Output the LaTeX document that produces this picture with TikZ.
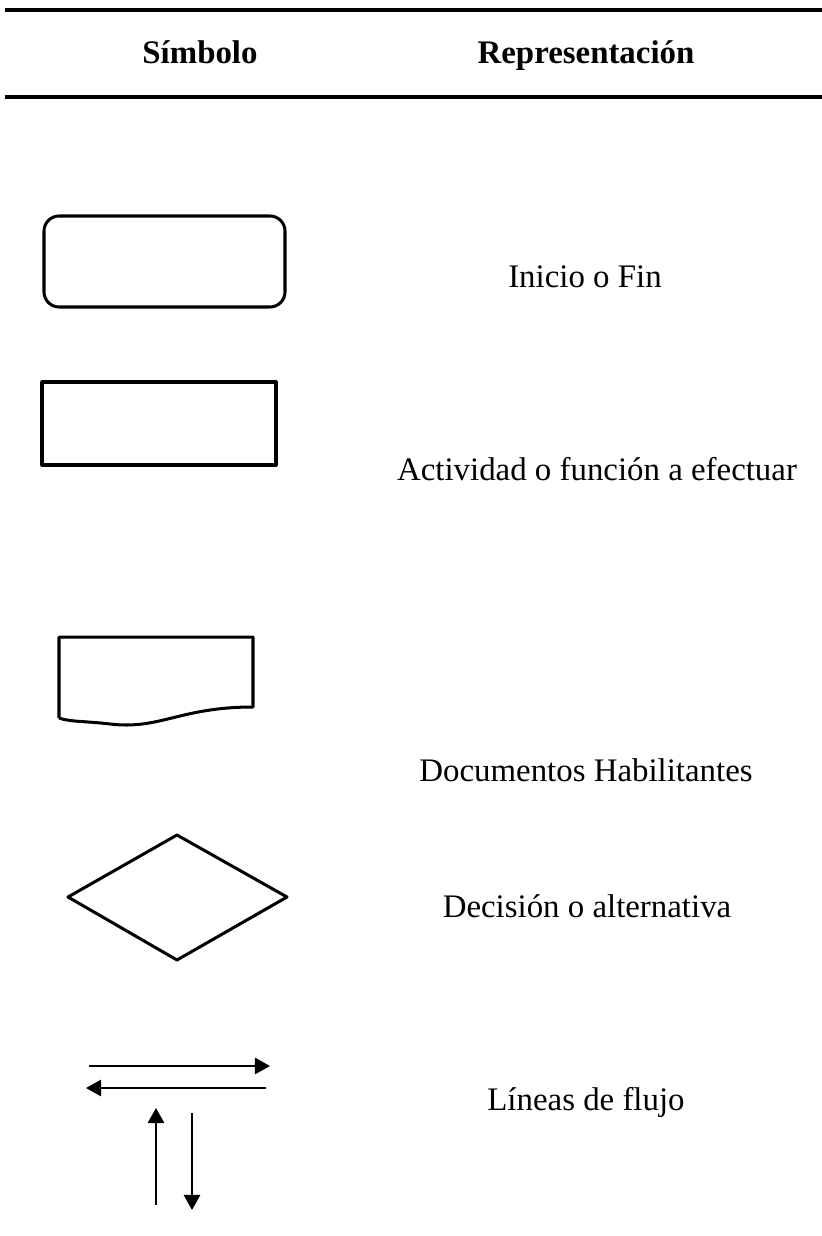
\documentclass[tikz,border=0pt]{standalone}
\usepackage{fontspec}
\setmainfont{Liberation Serif}
\usetikzlibrary{arrows.meta}
\tikzset{
    shapeline/.style = {line width=1.1pt, line join=round},
    flowline/.style  = {line width=0.55pt, -{Triangle[length=5.5pt, width=6pt]}},
    headtext/.style  = {font=\fontsize{12}{14}\selectfont\bfseries, anchor=base},
    desctext/.style  = {font=\fontsize{12}{14}\selectfont, anchor=base}
}
\begin{document}
\begin{tikzpicture}[x=0.365pt, y=-0.365pt]
    \useasboundingbox (0,0) rectangle (822,1236);
    % header rules
    \draw[line width=1.1pt] (5,10) -- (822,10);
    \draw[line width=1.1pt] (5,97) -- (822,97);
    \node[headtext] (simbolo) at (200,64) {Símbolo};
    \node[headtext] (repr) at (586,64) {Representación};

    % symbols
    \draw[shapeline, rounded corners=5.5pt] (44,216) rectangle (285,307);
    \draw[shapeline] (42,382) rectangle (276,465);
    \draw[shapeline] (59,718) -- (59,637) -- (253,637) -- (253,707)
        .. controls (180,707) and (160,730) .. (110,724)
        .. controls (85,721) and (70,722) .. (59,718);
    \draw[shapeline] (68,897) -- (177,835) -- (287,897) -- (177,960) -- cycle;

    % flow lines
    \coordinate (h1a) at (89,1066);  \coordinate (h1b) at (270,1066);
    \coordinate (h2a) at (266,1088); \coordinate (h2b) at (86,1088);
    \coordinate (v1a) at (156,1205); \coordinate (v1b) at (156,1108);
    \coordinate (v2a) at (192,1113); \coordinate (v2b) at (192,1210);
    \draw[flowline] (h1a) -- (h1b);
    \draw[flowline] (h2a) -- (h2b);
    \draw[flowline] (v1a) -- (v1b);
    \draw[flowline] (v2a) -- (v2b);

    % descriptions
    \node[desctext] (inicio) at (585,287) {Inicio o Fin};
    \node[desctext] (actividad) at (597,480) {Actividad o función a efectuar};
    \node[desctext] (documentos) at (586,781) {Documentos Habilitantes};
    \node[desctext] (decision) at (587,917) {Decisión o alternativa};
    \node[desctext] (lineas) at (586,1110) {Líneas de flujo};
\end{tikzpicture}
\end{document}
